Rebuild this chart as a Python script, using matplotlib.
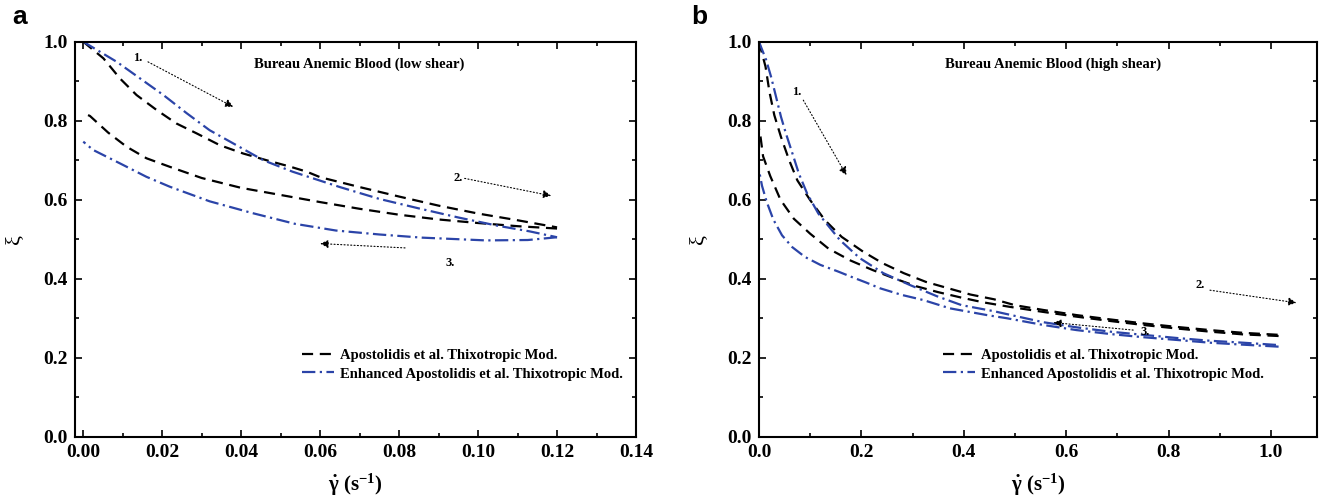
import numpy as np
import matplotlib
matplotlib.use("Agg")
import matplotlib.pyplot as plt
from matplotlib.ticker import MultipleLocator, FormatStrFormatter

# Panel a : low shear, hysteresis loops (ramp up then ramp down)
a_black_up_x = [0.0, 0.0051, 0.0093, 0.0135, 0.0186, 0.0236, 0.0287, 0.0346, 0.0405, 0.0464,
                0.0523, 0.0566, 0.06, 0.07, 0.08, 0.09, 0.10, 0.11, 0.12]
a_black_up_y = [1.0, 0.958, 0.907, 0.865, 0.827, 0.793, 0.768, 0.738, 0.717, 0.700,
                0.684, 0.671, 0.657, 0.632, 0.608, 0.585, 0.565, 0.548, 0.530]
a_black_down_x = [0.12, 0.11, 0.10, 0.09, 0.08, 0.07, 0.06, 0.05, 0.04, 0.03,
                  0.022, 0.016, 0.011, 0.0063, 0.0017, 0.0]
a_black_down_y = [0.527, 0.533, 0.541, 0.550, 0.562, 0.577, 0.594, 0.612, 0.630, 0.655,
                  0.683, 0.705, 0.734, 0.770, 0.812, 0.820]
a_blue_up_x = [0.0, 0.0085, 0.0144, 0.0203, 0.0262, 0.032, 0.0388, 0.0456, 0.053, 0.057,
               0.065, 0.075, 0.085, 0.095, 0.105, 0.113, 0.12]
a_blue_up_y = [1.0, 0.949, 0.907, 0.865, 0.819, 0.776, 0.738, 0.700, 0.671, 0.658,
               0.632, 0.602, 0.578, 0.555, 0.534, 0.520, 0.505]
a_blue_down_x = [0.12, 0.1126, 0.102, 0.0858, 0.075, 0.064, 0.0536, 0.0429, 0.032, 0.0219,
                 0.016, 0.0093, 0.0025, 0.0]
a_blue_down_y = [0.505, 0.498, 0.497, 0.504, 0.512, 0.522, 0.539, 0.566, 0.596, 0.633,
                 0.658, 0.692, 0.726, 0.747]

# Panel b : high shear
b_black_up_x = [0.0, 0.0128, 0.0205, 0.030, 0.043, 0.059, 0.075, 0.10, 0.129, 0.1615, 0.204,
                0.242, 0.283, 0.326, 0.372, 0.413, 0.459, 0.50, 0.555, 0.62, 0.686, 0.75,
                0.816, 0.881, 0.946, 1.015]
b_black_up_y = [1.0, 0.937, 0.873, 0.814, 0.759, 0.700, 0.649, 0.599, 0.548, 0.506, 0.468,
                0.439, 0.414, 0.392, 0.375, 0.360, 0.348, 0.333, 0.321, 0.308, 0.297, 0.287,
                0.278, 0.270, 0.263, 0.258]
b_black_down_x = [1.015, 0.946, 0.881, 0.816, 0.75, 0.686, 0.62, 0.555, 0.489, 0.439, 0.396,
                  0.350, 0.307, 0.264, 0.222, 0.179, 0.136, 0.10, 0.068, 0.042, 0.022, 0.008,
                  0.003, 0.0]
b_black_down_y = [0.255, 0.259, 0.266, 0.274, 0.283, 0.293, 0.304, 0.316, 0.329, 0.340, 0.352,
                  0.366, 0.381, 0.401, 0.422, 0.446, 0.476, 0.514, 0.552, 0.600, 0.660, 0.710,
                  0.760, 0.780]
b_blue_up_x = [0.0, 0.014, 0.0237, 0.0333, 0.043, 0.0526, 0.0654, 0.078, 0.094, 0.116, 0.158,
               0.197, 0.243, 0.295, 0.347, 0.396, 0.458, 0.503, 0.555, 0.62, 0.686, 0.75,
               0.816, 0.881, 0.946, 1.015]
b_blue_up_y = [1.0, 0.954, 0.911, 0.861, 0.810, 0.768, 0.717, 0.666, 0.616, 0.565, 0.498,
               0.452, 0.414, 0.384, 0.356, 0.333, 0.318, 0.305, 0.290, 0.277, 0.266, 0.258,
               0.250, 0.243, 0.238, 0.232]
b_blue_down_x = [1.015, 0.946, 0.881, 0.816, 0.75, 0.686, 0.62, 0.555, 0.484, 0.445, 0.373,
                 0.321, 0.279, 0.236, 0.21, 0.18, 0.155, 0.12, 0.09, 0.065, 0.045, 0.028,
                 0.015, 0.006, 0.0]
b_blue_down_y = [0.228, 0.233, 0.238, 0.245, 0.252, 0.260, 0.270, 0.283, 0.300, 0.308, 0.325,
                 0.346, 0.359, 0.376, 0.390, 0.405, 0.418, 0.435, 0.455, 0.480, 0.510, 0.550,
                 0.595, 0.635, 0.675]

label_black = "Apostolidis et al. Thixotropic Mod."
label_blue = "Enhanced Apostolidis et al. Thixotropic Mod."
blue = "#2B44A8"
black_ls = (0, (5.0, 3.0))
blue_ls = (0, (6.0, 2.0, 1.0, 2.0))

plt.rcParams['font.family'] = ['Liberation Serif', 'DejaVu Serif']
plt.rcParams['font.weight'] = 'bold'
plt.rcParams['mathtext.fontset'] = 'custom'
plt.rcParams['mathtext.rm'] = 'Liberation Serif:bold'
plt.rcParams['mathtext.it'] = 'Liberation Serif:bold'
plt.rcParams['mathtext.bf'] = 'Liberation Serif:bold'

fig = plt.figure(figsize=(13.22, 4.99), dpi=100)
ax_a = fig.add_axes([0.0567, 0.1248, 0.4244, 0.7916])
ax_b = fig.add_axes([0.5741, 0.1248, 0.4221, 0.7916])


def draw_panel(ax, bu, bd, lu, ld, title, title_x, leg_xy, arrows):
    ax.plot(bu[0], bu[1], color='k', lw=1.6, linestyle=black_ls, label=label_black)
    ax.plot(bd[0], bd[1], color='k', lw=1.6, linestyle=black_ls)
    ax.plot(lu[0], lu[1], color=blue, lw=1.6, linestyle=blue_ls, label=label_blue)
    ax.plot(ld[0], ld[1], color=blue, lw=1.6, linestyle=blue_ls)

    ax.text(title_x, 0.943, title, ha='center', va='center', fontsize=10.5, fontweight='bold')

    # numbered arrows showing the direction of the loop
    for txt, txy, tail, head in arrows:
        ax.text(txy[0], txy[1], txt, ha='center', va='center', fontsize=9, fontweight='bold')
        ax.annotate('', xy=head, xytext=tail,
                    arrowprops=dict(arrowstyle='-|>', linestyle=(0, (1, 2)), lw=0.8,
                                    color='k', mutation_scale=12, shrinkA=0, shrinkB=0))

    ax.legend(loc='upper left', bbox_to_anchor=leg_xy, bbox_transform=ax.transData,
              frameon=False, fontsize=10.5, handlelength=2.2, handletextpad=0.4,
              labelspacing=0.35, borderpad=0, borderaxespad=0)

    ax.set_ylim(0, 1.0)
    ax.yaxis.set_major_locator(MultipleLocator(0.2))
    ax.yaxis.set_minor_locator(MultipleLocator(0.1))
    ax.tick_params(which='both', direction='in', top=True, right=True, width=1.2,
                   labelsize=14, pad=5)
    ax.tick_params(which='major', length=5)
    ax.tick_params(which='minor', length=3)
    for lab in ax.get_xticklabels() + ax.get_yticklabels():
        lab.set_fontweight('bold')
    for s in ax.spines.values():
        s.set_linewidth(1.5)
    ax.set_xlabel(r'$\dot{\gamma}$ (s$^{-1}$)', fontsize=15, fontweight='bold', labelpad=8)
    ax.set_ylabel('ξ', fontsize=16, labelpad=14)


draw_panel(ax_a,
           (a_black_up_x, a_black_up_y), (a_black_down_x, a_black_down_y),
           (a_blue_up_x, a_blue_up_y), (a_blue_down_x, a_blue_down_y),
           'Bureau Anemic Blood (low shear)', 0.07, (0.0553, 0.222),
           [('1.', (0.0139, 0.958), (0.0164, 0.949), (0.038, 0.835)),
            ('2.', (0.095, 0.656), (0.0966, 0.654), (0.1185, 0.61)),
            ('3.', (0.093, 0.441), (0.0815, 0.478), (0.060, 0.489))])
ax_a.set_xlim(-0.0021, 0.14)
ax_a.xaxis.set_major_locator(MultipleLocator(0.02))
ax_a.xaxis.set_minor_locator(MultipleLocator(0.01))
ax_a.xaxis.set_major_formatter(FormatStrFormatter('%.2f'))

draw_panel(ax_b,
           (b_black_up_x, b_black_up_y), (b_black_down_x, b_black_down_y),
           (b_blue_up_x, b_blue_up_y), (b_blue_down_x, b_blue_down_y),
           'Bureau Anemic Blood (high shear)', 0.575, (0.36, 0.222),
           [('1.', (0.0736, 0.873), (0.0866, 0.852), (0.171, 0.662)),
            ('2.', (0.861, 0.384), (0.881, 0.371), (1.050, 0.339)),
            ('3.', (0.754, 0.266), (0.731, 0.27), (0.575, 0.289))])
ax_b.set_xlim(0, 1.09)
ax_b.xaxis.set_major_locator(MultipleLocator(0.2))
ax_b.xaxis.set_minor_locator(MultipleLocator(0.1))
ax_b.xaxis.set_major_formatter(FormatStrFormatter('%.1f'))

# panel letters
fig.text(0.009, 0.965, 'a', fontsize=19, fontweight='bold', family='Liberation Sans', va='center')
fig.text(0.523, 0.965, 'b', fontsize=19, fontweight='bold', family='Liberation Sans', va='center')

fig.savefig("out.png", dpi=100)
